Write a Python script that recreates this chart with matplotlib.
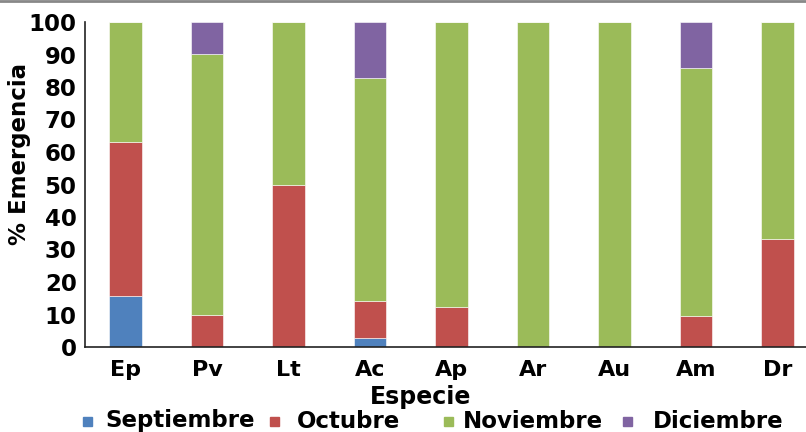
import matplotlib
matplotlib.use("Agg")
import matplotlib.pyplot as plt
import numpy as np
from matplotlib.patches import Rectangle
from matplotlib.lines import Line2D

especies = ["Ep", "Pv", "Lt", "Ac", "Ap", "Ar", "Au", "Am", "Dr"]
meses = ["Septiembre", "Octubre", "Noviembre", "Diciembre"]
septiembre = [15.7, 0, 0, 2.8, 0, 0, 0, 0, 0]
octubre = [47.4, 9.8, 50.0, 11.3, 12.3, 0, 0, 9.4, 33.2]
noviembre = [36.9, 80.3, 50.0, 68.8, 87.7, 100, 100, 76.4, 66.8]
diciembre = [0, 9.9, 0, 17.1, 0, 0, 0, 14.2, 0]

colors = ["#4F81BD", "#C0504D", "#9BBB59", "#8064A2"]
plt.rcParams["font.family"] = ["DejaVu Sans"]
plt.rcParams["font.weight"] = "bold"

W, H = 806, 432
fig = plt.figure(figsize=(W / 100, H / 100), dpi=100)
# axes extend a little past the right edge, as in the original crop
ax = fig.add_axes([85 / W, 85 / H, (818 - 85) / W, 325 / H])

x = np.arange(len(especies))
bottom = np.zeros(len(especies))
for serie, c in zip([septiembre, octubre, noviembre, diciembre], colors):
    ax.bar(x, serie, 0.4, bottom=bottom, color=c, edgecolor="white", linewidth=0.4)
    bottom += np.array(serie)

ax.set_xlim(-0.5, 8.5)
ax.set_ylim(0, 100)
ax.set_yticks(range(0, 101, 10))
ax.set_xticks(x)
ax.set_xticklabels(especies, fontsize=16, fontweight="bold")
ax.tick_params(axis="y", length=0, labelsize=16.5, pad=6)
ax.tick_params(axis="x", length=0, pad=9)
for lab in ax.get_yticklabels():
    lab.set_fontweight("bold")
ax.spines["top"].set_visible(False)
ax.spines["right"].set_visible(False)
ax.spines["left"].set_color("#222222")
ax.spines["bottom"].set_color("#222222")
ax.spines["left"].set_linewidth(1.2)
ax.spines["bottom"].set_linewidth(1.2)
ax.set_ylabel("% Emergencia", fontsize=16.5, fontweight="bold")
ax.yaxis.set_label_coords((31 - 85) / 733, (347 - 154) / 325)
fig.text(421 / W, 1 - 397 / H, "Especie", ha="center", va="center",
         fontsize=17, fontweight="bold")

# legend drawn by hand to keep the uneven spacing
sq_x = [83, 270, 444, 623]
txt_x = [105, 297, 463, 653]
ly = 1 - 421 / H
for m, c, sx, tx in zip(meses, colors, sq_x, txt_x):
    fig.add_artist(Rectangle((sx / W, ly - 5 / H), 9 / W, 9 / H, color=c,
                             transform=fig.transFigure))
    fig.text(tx / W, ly, m, ha="left", va="center", fontsize=16.5, fontweight="bold")

fig.add_artist(Line2D([0, 1], [1 - 1 / H, 1 - 1 / H], color="#888888", linewidth=2,
                      transform=fig.transFigure))

fig.savefig("out.png", dpi=100)
